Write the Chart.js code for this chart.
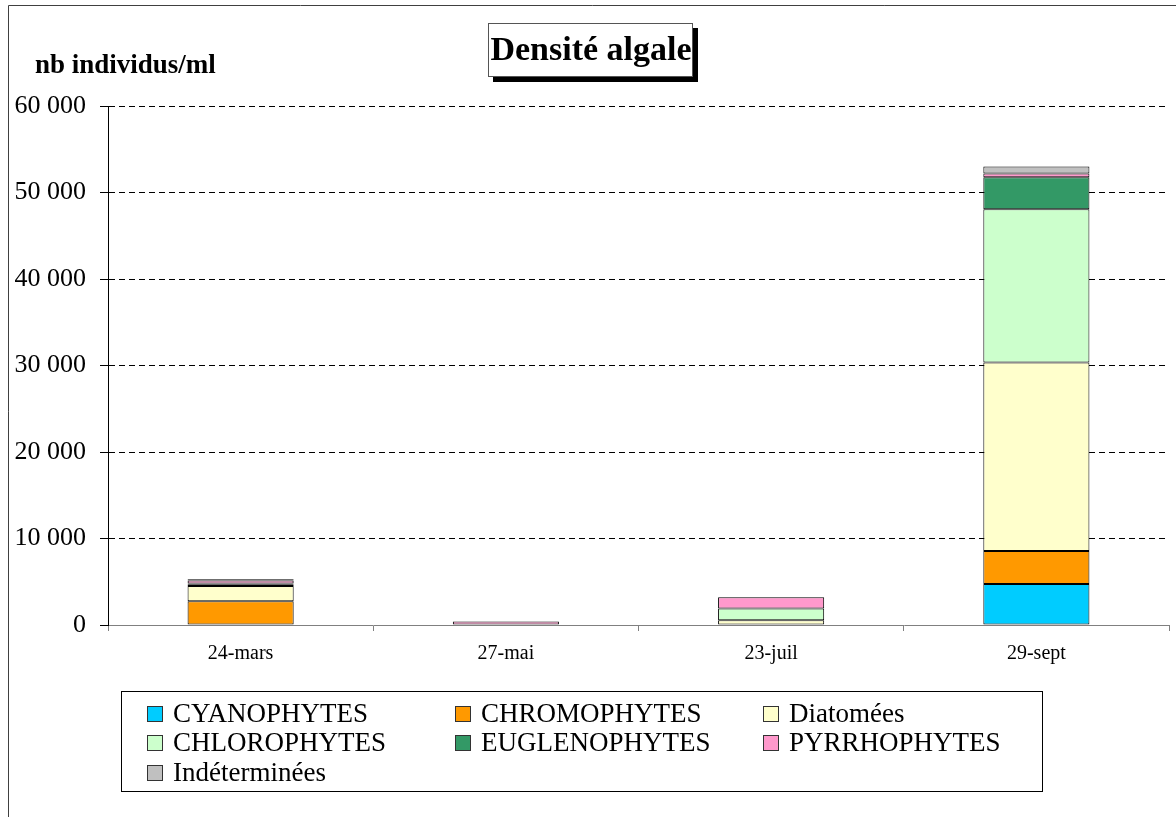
<!DOCTYPE html>
<html>
<head>
<meta charset="utf-8">
<script src="https://cdn.jsdelivr.net/npm/chart.js@4.4.1/dist/chart.umd.min.js"></script>
<style>
  html, body { margin: 0; padding: 0; background: #fff; }
  #wrap { position: relative; width: 1176px; height: 817px; }
</style>
</head>
<body>
<div id="wrap"><canvas id="c" width="1176" height="817"></canvas></div>
<script>
// ---- data ----
const categories = ['24-mars', '27-mai', '23-juil', '29-sept'];
const cyanophytes    = [0, 0, 0, 4750];
const chromophytes   = [2750, 0, 0, 3800];
const diatomees      = [1750, 50, 550, 21800];
const chlorophytes   = [200, 0, 1350, 17700];
const euglenophytes  = [100, 0, 0, 3700];
const pyrrhophytes   = [350, 350, 1300, 450];
const indeterminees  = [150, 0, 0, 800];
const yTicks = [0, 10000, 20000, 30000, 40000, 50000, 60000];
const seriesNames = ['CYANOPHYTES', 'CHROMOPHYTES', 'Diatomées', 'CHLOROPHYTES', 'EUGLENOPHYTES', 'PYRRHOPHYTES', 'Indéterminées'];
const seriesColors = ['#00CCFF', '#FF9900', '#FFFFCC', '#CCFFCC', '#339966', '#FF99CC', '#C0C0C0'];
const seriesData = [cyanophytes, chromophytes, diatomees, chlorophytes, euglenophytes, pyrrhophytes, indeterminees];
const titleText = 'Densité algale';
const yLabelText = 'nb individus/ml';

const FONT = '"Liberation Serif", "Times New Roman", serif';

function fmt(v) { return String(v).replace(/\B(?=(\d{3})+(?!\d))/g, ' '); }

const decorPlugin = {
  id: 'decor',
  afterDraw(chart) {
    const ctx = chart.ctx;
    ctx.save();
    // outer frame
    ctx.strokeStyle = '#404040';
    ctx.lineWidth = 1;
    ctx.beginPath();
    ctx.moveTo(8.5, 817); ctx.lineTo(8.5, 5.5); ctx.lineTo(1176, 5.5);
    ctx.stroke();

    // title box with shadow
    ctx.fillStyle = '#000';
    ctx.fillRect(493, 28, 205, 54);
    ctx.fillStyle = '#fff';
    ctx.fillRect(488, 23, 205, 54);
    ctx.strokeStyle = '#555';
    ctx.strokeRect(488.5, 23.5, 204, 53);
    ctx.fillStyle = '#000';
    ctx.font = 'bold 34px ' + FONT;
    ctx.textAlign = 'center';
    ctx.textBaseline = 'alphabetic';
    ctx.fillText(titleText, 591, 60);

    // y axis label
    ctx.font = 'bold 27px ' + FONT;
    ctx.textAlign = 'left';
    ctx.fillText(yLabelText, 35, 73);

    // legend
    ctx.strokeStyle = '#000';
    ctx.strokeRect(121.5, 691.5, 921, 100);
    const colX = [147, 455, 763];
    const rowBase = [722, 751, 781];
    ctx.font = '27px ' + FONT;
    chart.data.datasets.forEach((ds, i) => {
      const col = i % 3, row = Math.floor(i / 3);
      const x = colX[col], b = rowBase[row];
      ctx.fillStyle = ds.backgroundColor;
      ctx.fillRect(x, b - 16, 16, 16);
      ctx.strokeStyle = '#333';
      ctx.strokeRect(x + 0.5, b - 15.5, 15, 15);
      ctx.fillStyle = '#000';
      ctx.fillText(ds.label, x + 26, b);
    });
    ctx.restore();
  }
};

const datasets = seriesNames.map((name, i) => ({
  label: name,
  data: seriesData[i],
  backgroundColor: seriesColors[i],
  borderColor: '#000',
  borderWidth: 1,
  borderSkipped: false,
  barPercentage: 0.4,
  categoryPercentage: 1.0
}));

new Chart(document.getElementById('c'), {
  type: 'bar',
  data: { labels: categories, datasets },
  options: {
    responsive: false,
    animation: false,
    devicePixelRatio: 1,
    layout: { padding: { top: 106, right: 7, left: 0, bottom: 0 } },
    plugins: { legend: { display: false }, title: { display: false }, tooltip: { enabled: false } },
    scales: {
      x: {
        stacked: true,
        offset: true,
        grid: { offset: true, drawOnChartArea: false, color: '#808080', tickLength: 6, tickBorderDash: [] },
        border: { display: true, color: '#808080', width: 1 },
        ticks: { color: '#000', font: { family: FONT, size: 20 }, padding: 11, maxRotation: 0 },
        afterFit(scale) { scale.height = 192; }
      },
      y: {
        stacked: true,
        min: 0,
        max: 60000,
        afterBuildTicks(scale) { scale.ticks = yTicks.map(v => ({ value: v })); },
        grid: {
          color: (c) => (c.tick && c.tick.value === 0) ? 'rgba(0,0,0,0)' : '#000',
          tickColor: '#000',
          tickLength: 8,
          tickBorderDash: [],
          lineWidth: 1
        },
        border: { display: true, color: '#000', width: 1, dash: [6, 4] },
        ticks: { color: '#000', font: { family: FONT, size: 26 }, padding: 14, callback: (v) => fmt(v) },
        afterFit(scale) { scale.width = 108; }
      }
    }
  },
  plugins: [decorPlugin]
});
</script>
</body>
</html>
